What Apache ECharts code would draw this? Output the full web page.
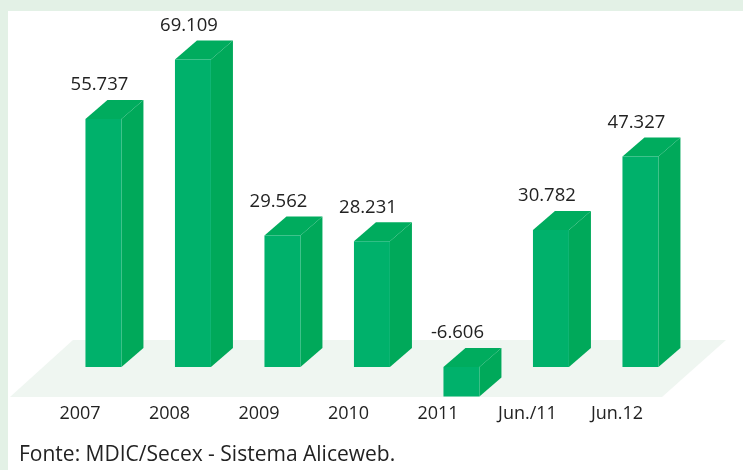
<!DOCTYPE html>
<html>
<head>
<meta charset="utf-8">
<script src="https://cdn.jsdelivr.net/npm/echarts@6/dist/echarts.min.js"></script>
<style>
html,body{margin:0;padding:0;background:#fff;}
#chart{width:743px;height:470px;}
</style>
</head>
<body>
<div id="chart"></div>
<script>
const categories = ['2007', '2008', '2009', '2010', '2011', 'Jun./11', 'Jun.12'];
const values = [55737, 69109, 29562, 28231, -6606, 30782, 47327];
const sourceText = 'Fonte: MDIC/Secex - Sistema Aliceweb.';

const FONT = "'Open Sans', sans-serif";
const FRONT = '#00B16B', SIDE = '#00A95A', TOP = '#00AC5E';
const DX = 22, DY = 19;

function fmt(v) {
  const s = Math.abs(v).toString().replace(/\B(?=(\d{3})+(?!\d))/g, '.');
  return (v < 0 ? '-' : '') + s;
}

const chart = echarts.init(document.getElementById('chart'), null, {renderer: 'canvas'});

function renderFloor(params, api) {
  const p0 = api.coord([0, 0]);
  const p1 = api.coord([categories.length - 1, 0]);
  const y0 = p0[1];
  return {
    type: 'polygon',
    shape: {points: [
      [p0[0] - 70, y0 + 30], [p1[0] + 45, y0 + 30],
      [p1[0] + 109, y0 - 27], [p0[0] - 7, y0 - 27]
    ]},
    style: {fill: '#EFF6F1'},
    silent: true
  };
}

function renderBar(params, api) {
  const idx = api.value(0);
  const v = api.value(1);
  const c = api.coord([idx, v]);
  const z = api.coord([idx, 0]);
  const band = api.size([1, 0])[0];
  const w = band * 0.402;
  const cx = c[0] + band * 0.262;
  const x1 = cx - w / 2, x2 = cx + w / 2;
  const yTop = Math.min(c[1], z[1]);
  const yBot = Math.max(c[1], z[1]);
  return {
    type: 'group',
    children: [
      {type: 'polygon', shape: {points: [[x2, yTop], [x2 + DX, yTop - DY], [x2 + DX, yBot - DY], [x2, yBot]]}, style: {fill: SIDE}},
      {type: 'polygon', shape: {points: [[x1, yTop], [x2, yTop], [x2 + DX, yTop - DY], [x1 + DX, yTop - DY]]}, style: {fill: TOP}},
      {type: 'rect', shape: {x: x1, y: yTop, width: w, height: yBot - yTop}, style: {fill: FRONT}},
      {type: 'text', x: cx - 4, y: yTop - DY - 15,
        style: {text: fmt(v), fill: '#222', font: '18.5px ' + FONT, textAlign: 'center', textVerticalAlign: 'middle'}}
    ]
  };
}

chart.setOption({
  backgroundColor: '#E3F1E6',
  animation: false,
  graphic: [{type: 'rect', left: 8, top: 11, shape: {width: 735, height: 459}, style: {fill: '#fff'}, z: -10, silent: true}],
  title: {
    text: sourceText, left: 14, top: 440,
    textStyle: {fontFamily: FONT, fontSize: 21, fontWeight: 'normal', color: '#222'}
  },
  grid: {left: 35.25, right: 81.25, top: 46.6, bottom: 67.4},
  xAxis: {
    type: 'category', data: categories,
    axisLine: {show: false}, axisTick: {show: false}, splitLine: {show: false},
    axisLabel: {fontFamily: FONT, fontSize: 18, color: '#222', margin: 2, interval: 0}
  },
  yAxis: {type: 'value', min: -8000, max: 72000, show: false, splitLine: {show: false}},
  series: [
    {type: 'custom', renderItem: renderFloor, data: [[0, 0]], silent: true, z: 1, clip: false},
    {type: 'custom', renderItem: renderBar, data: values.map((v, i) => [i, v]), z: 2, clip: false}
  ]
});
</script>
</body>
</html>
